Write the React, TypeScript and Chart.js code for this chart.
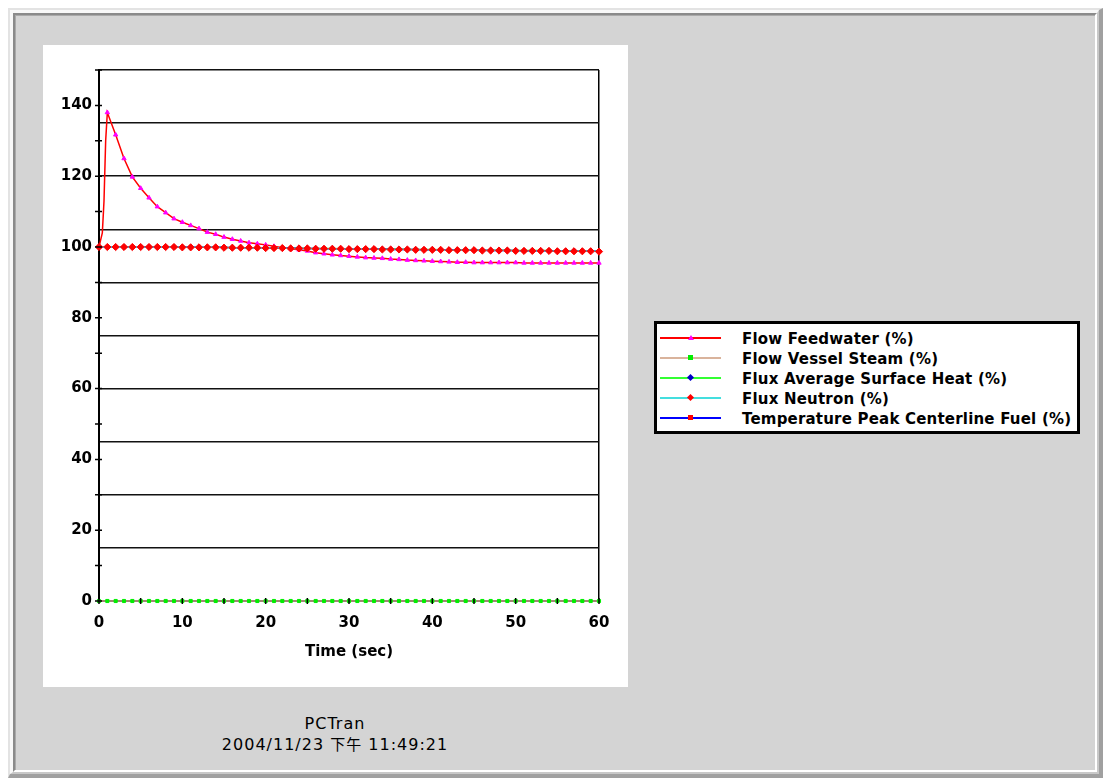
import React, { useEffect, useRef } from 'react';
import { Chart, registerables } from 'chart.js';

Chart.register(...registerables);

// ---------- data ----------
const timeSec = [
  0, 1, 2, 3, 4, 5, 6, 7, 8, 9, 10, 11, 12, 13, 14, 15, 16, 17, 18, 19, 20,
  21, 22, 23, 24, 25, 26, 27, 28, 29, 30, 31, 32, 33, 34, 35, 36, 37, 38, 39, 40,
  41, 42, 43, 44, 45, 46, 47, 48, 49, 50, 51, 52, 53, 54, 55, 56, 57, 58, 59, 60,
];

const feedTime = [
  0, 0.2, 0.4, 0.6, 0.8, 1, 2, 3, 4, 5, 6, 7, 8, 9, 10, 11, 12, 13, 14, 15, 16, 17, 18, 19, 20,
  21, 22, 23, 24, 25, 26, 27, 28, 29, 30, 31, 32, 33, 34, 35, 36, 37, 38, 39, 40,
  41, 42, 43, 44, 45, 46, 47, 48, 49, 50, 51, 52, 53, 54, 55, 56, 57, 58, 59, 60,
];

const flowFeedwater = [
  100.0, 102.0, 104.0, 113.0, 130.0, 138.0, 131.7, 125.0, 119.8, 116.6, 113.9, 111.4, 109.7, 108.0, 107.0,
  106.1, 105.2, 104.2, 103.6, 102.8, 102.2, 101.7, 101.2, 100.9, 100.6,
  100.2, 99.8, 99.5, 99.2, 98.9, 98.4, 98.1, 97.8, 97.6, 97.4, 97.2, 97.0, 96.9, 96.8, 96.6, 96.5, 96.3, 96.2, 96.1, 96.0,
  95.9, 95.8, 95.7, 95.7, 95.6, 95.6, 95.6, 95.6, 95.6, 95.6, 95.5, 95.5, 95.5, 95.5, 95.5, 95.5,
  95.5, 95.5, 95.5, 95.5,
];

const flowVesselSteam = [
  0, 0, 0, 0, 0, 0, 0, 0, 0, 0, 0, 0, 0, 0, 0, 0, 0, 0, 0, 0, 0,
  0, 0, 0, 0, 0, 0, 0, 0, 0, 0, 0, 0, 0, 0, 0, 0, 0, 0, 0, 0,
  0, 0, 0, 0, 0, 0, 0, 0, 0, 0, 0, 0, 0, 0, 0, 0, 0, 0, 0, 0,
];

const fluxSurfaceHeat = [
  100.0, 100.0, 100.0, 100.0, 100.0, 100.0, 100.0, 100.0, 100.0, 100.0,
  100.0, 99.9, 99.9, 99.9, 99.9, 99.9, 99.8, 99.8, 99.8, 99.8,
  99.8, 99.7, 99.7, 99.7, 99.7, 99.6, 99.6, 99.6, 99.6, 99.5,
  99.5, 99.5, 99.5, 99.4, 99.4, 99.4, 99.4, 99.3, 99.3, 99.3,
  99.3, 99.2, 99.2, 99.2, 99.2, 99.1, 99.1, 99.1, 99.1, 99.1,
  99.0, 99.0, 99.0, 99.0, 99.0, 98.9, 98.9, 98.9, 98.9, 98.9, 98.9,
];

const fluxNeutron = [
  100.0, 100.0, 100.0, 100.0, 100.0, 100.0, 100.0, 100.0, 100.0, 100.0,
  99.9, 99.9, 99.9, 99.9, 99.9, 99.8, 99.8, 99.8, 99.8, 99.8,
  99.7, 99.7, 99.7, 99.6, 99.6, 99.6, 99.5, 99.5, 99.5, 99.5,
  99.4, 99.4, 99.4, 99.4, 99.3, 99.3, 99.3, 99.3, 99.2, 99.2,
  99.2, 99.2, 99.1, 99.1, 99.1, 99.1, 99.0, 99.0, 99.0, 99.0,
  98.9, 98.9, 98.9, 98.9, 98.9, 98.8, 98.8, 98.8, 98.8, 98.8, 98.7,
];

const tempPeakFuel = [
  100.0, 100.0, 100.0, 100.0, 100.0, 100.0, 100.0, 100.0, 100.0, 100.0,
  100.0, 100.0, 99.9, 99.9, 99.9, 99.9, 99.8, 99.8, 99.8, 99.8,
  99.7, 99.7, 99.7, 99.7, 99.6, 99.6, 99.6, 99.5, 99.5, 99.5,
  99.5, 99.4, 99.4, 99.4, 99.4, 99.3, 99.3, 99.3, 99.3, 99.2,
  99.2, 99.2, 99.2, 99.1, 99.1, 99.1, 99.1, 99.0, 99.0, 99.0,
  99.0, 98.9, 98.9, 98.9, 98.9, 98.9, 98.8, 98.8, 98.8, 98.8, 98.8,
];

const seriesNames = [
  'Flow Feedwater (%)',
  'Flow Vessel Steam (%)',
  'Flux Average Surface Heat (%)',
  'Flux Neutron (%)',
  'Temperature Peak Centerline Fuel (%)',
];
const lineColors = ['#ff0000', '#d9b39c', '#33ff33', '#44dede', '#0000ff'];
const markerColors = ['#ff00ff', '#00ee00', '#0000c8', '#ff0000', '#ff0000'];
const markerStyles = ['triangle', 'rect', 'rectRot', 'rectRot', 'rect'];
const markerRadius = [2.5, 2.2, 2.6, 3.6, 1.8];
const drawOrder = [3, 4, 2, 0, 1]; // lower = drawn on top

const yMin = 0;
const yMax = 150;
const yTickStep = 10;
const yLabelStep = 20;
const yGridStep = 15;
const xMin = 0;
const xMax = 60;
const xLabelStep = 10;
const xTickMarks = [0, 5, 10, 15, 20, 25, 30, 35, 40, 45, 50, 55, 60];

const xTitle = 'Time (sec)';
const footerTitle = 'PCTran';
const footerDate = '2004/11/23';
const footerAmPm = '下午';
const footerTime = '11:49:21';

const boldFont = { family: '"DejaVu Sans", sans-serif', size: 15, weight: 'bold' as const };

const crossTicks = {
  id: 'crossTicks',
  afterDatasetsDraw(chart: any) {
    const { ctx } = chart;
    const x = chart.scales.x;
    const y = chart.scales.y;
    ctx.save();
    ctx.strokeStyle = '#000';
    ctx.lineWidth = 1.5;
    ctx.beginPath();
    y.ticks.forEach((t: any) => {
      const py = y.getPixelForValue(t.value);
      ctx.moveTo(x.left - 4, py);
      ctx.lineTo(x.left + 3, py);
    });
    xTickMarks.forEach((v) => {
      const px = x.getPixelForValue(v);
      ctx.moveTo(px, y.bottom - 3);
      ctx.lineTo(px, y.bottom + 3);
    });
    ctx.stroke();
    ctx.restore();
  },
};

function LegendMarker({ style, color }: { style: string; color: string }) {
  const base: React.CSSProperties = { position: 'absolute', left: 31, top: 6 };
  if (style === 'triangle') {
    return (
      <div
        style={{
          ...base,
          width: 0,
          height: 0,
          borderLeft: '3px solid transparent',
          borderRight: '3px solid transparent',
          borderBottom: `5px solid ${color}`,
        }}
      />
    );
  }
  if (style === 'rectRot') {
    return <div style={{ ...base, width: 5, height: 5, background: color, transform: 'rotate(45deg)' }} />;
  }
  return <div style={{ ...base, width: 5, height: 5, background: color }} />;
}

export default function App() {
  const canvasRef = useRef<HTMLCanvasElement | null>(null);

  useEffect(() => {
    if (!canvasRef.current) return;
    const valueSets = [flowFeedwater, flowVesselSteam, fluxSurfaceHeat, fluxNeutron, tempPeakFuel];
    const datasets = valueSets.map((vals, i) => {
      const times = i === 0 ? feedTime : timeSec;
      return {
        label: seriesNames[i],
        data: vals.map((v, k) => ({ x: times[k], y: v })),
        borderColor: lineColors[i],
        backgroundColor: markerColors[i],
        borderWidth: 1.5,
        pointStyle: markerStyles[i] as any,
        pointRadius:
          i === 0
            ? (c: any) => (Number.isInteger(feedTime[c.dataIndex]) ? markerRadius[i] : 0)
            : markerRadius[i],
        pointBackgroundColor: markerColors[i],
        pointBorderColor: markerColors[i],
        pointBorderWidth: 1,
        tension: 0,
        clip: false as any,
        order: drawOrder[i],
      };
    });

    const chart = new Chart(canvasRef.current, {
      type: 'line',
      data: { datasets },
      options: {
        animation: false,
        responsive: false,
        devicePixelRatio: 1,
        layout: { padding: { left: 0, right: 29, top: 25, bottom: 0 } },
        plugins: { legend: { display: false }, tooltip: { enabled: false } },
        scales: {
          x: {
            type: 'linear',
            min: xMin,
            max: xMax,
            ticks: { stepSize: xLabelStep, color: '#000', font: boldFont, padding: 13, maxRotation: 0 },
            grid: {
              drawTicks: false,
              color: (c: any) => (c.tick && c.tick.value === xMax ? '#000' : 'rgba(0,0,0,0)'),
              lineWidth: 1.5,
            },
            border: { color: '#000', width: 2 },
            title: {
              display: true,
              text: xTitle,
              color: '#000',
              font: boldFont,
              padding: { top: 0, bottom: 26 },
            },
            afterFit: (s: any) => {
              s.height = 86;
            },
          },
          y: {
            type: 'linear',
            position: 'left',
            min: yMin,
            max: yMax,
            ticks: {
              stepSize: yTickStep,
              color: '#000',
              font: boldFont,
              padding: 7,
              callback: (v: any) => (Number(v) % yLabelStep === 0 ? String(v) : ''),
            },
            grid: { drawOnChartArea: false, drawTicks: false },
            border: { color: '#000', width: 2 },
            afterFit: (s: any) => {
              s.width = 56;
            },
          },
          yGrid: {
            type: 'linear',
            position: 'left',
            min: yMin,
            max: yMax,
            ticks: { stepSize: yGridStep, display: false },
            grid: { drawTicks: false, color: '#111', lineWidth: 1.5 },
            border: { display: false },
            afterFit: (s: any) => {
              s.width = 0;
            },
          },
        },
      },
      plugins: [crossTicks],
    });
    return () => chart.destroy();
  }, []);

  return (
    <div>
      {/* window frame */}
      <div
        style={{
          position: 'absolute',
          left: 8,
          top: 8,
          width: 1095,
          height: 770,
          boxSizing: 'border-box',
          borderTop: '2px solid #e3e3e3',
          borderLeft: '2px solid #e3e3e3',
          borderRight: '4px solid #a0a0a0',
          borderBottom: '4px solid #a0a0a0',
        }}
      >
        <div
          style={{
            width: '100%',
            height: '100%',
            boxSizing: 'border-box',
            borderTop: '3px solid #f8f8f8',
            borderLeft: '3px solid #f8f8f8',
            borderRight: '2px solid #c8c8c8',
            borderBottom: '2px solid #c8c8c8',
          }}
        >
          <div
            style={{
              width: '100%',
              height: '100%',
              boxSizing: 'border-box',
              borderTop: '2px solid #8a8a8a',
              borderLeft: '2px solid #8a8a8a',
              borderRight: '2px solid #ffffff',
              borderBottom: '2px solid #ffffff',
            }}
          >
            <div
              style={{
                width: '100%',
                height: '100%',
                boxSizing: 'border-box',
                borderTop: '1px solid #a9a9a9',
                borderLeft: '1px solid #a9a9a9',
                background: '#d4d4d4',
              }}
            />
          </div>
        </div>
      </div>

      {/* white plot panel */}
      <div style={{ position: 'absolute', left: 43, top: 45, width: 585, height: 642, background: '#fff' }}>
        <canvas ref={canvasRef} width={585} height={642} style={{ display: 'block', width: 585, height: 642 }} />
      </div>

      {/* legend */}
      <div
        style={{
          position: 'absolute',
          left: 654,
          top: 321,
          width: 426,
          height: 113,
          boxSizing: 'border-box',
          border: '3px solid #000',
          background: '#fff',
        }}
      >
        {seriesNames.map((name, i) => (
          <div key={name} style={{ position: 'absolute', left: 0, top: 5 + 20 * i, width: 420, height: 20 }}>
            <div
              style={{ position: 'absolute', left: 3, top: 8, width: 61, height: 2, background: lineColors[i] }}
            />
            <LegendMarker style={markerStyles[i]} color={markerColors[i]} />
            <div
              style={{
                position: 'absolute',
                left: 85,
                top: 0,
                height: 20,
                lineHeight: '20px',
                whiteSpace: 'nowrap',
                fontFamily: '"DejaVu Sans", sans-serif',
                fontWeight: 'bold',
                fontSize: 15,
                letterSpacing: '0.2px',
                color: '#000',
              }}
            >
              {name}
            </div>
          </div>
        ))}
      </div>

      {/* footer */}
      <div
        style={{
          position: 'absolute',
          left: 135,
          top: 716,
          width: 400,
          textAlign: 'center',
          fontFamily: '"DejaVu Sans", "Noto Sans CJK TC", sans-serif',
          fontSize: 16,
          lineHeight: '16px',
          letterSpacing: '1px',
          color: '#000',
          whiteSpace: 'nowrap',
        }}
      >
        {footerTitle}
      </div>
      <div
        style={{
          position: 'absolute',
          left: 135,
          top: 736,
          width: 400,
          textAlign: 'center',
          fontFamily: '"DejaVu Sans", "Noto Sans CJK TC", sans-serif',
          fontSize: 16,
          lineHeight: '16px',
          letterSpacing: '1px',
          color: '#000',
          whiteSpace: 'nowrap',
        }}
      >
        {footerDate} <span style={{ fontFamily: '"Noto Sans CJK TC", sans-serif', fontSize: 15 }}>{footerAmPm}</span>{' '}
        {footerTime}
      </div>
    </div>
  );
}
